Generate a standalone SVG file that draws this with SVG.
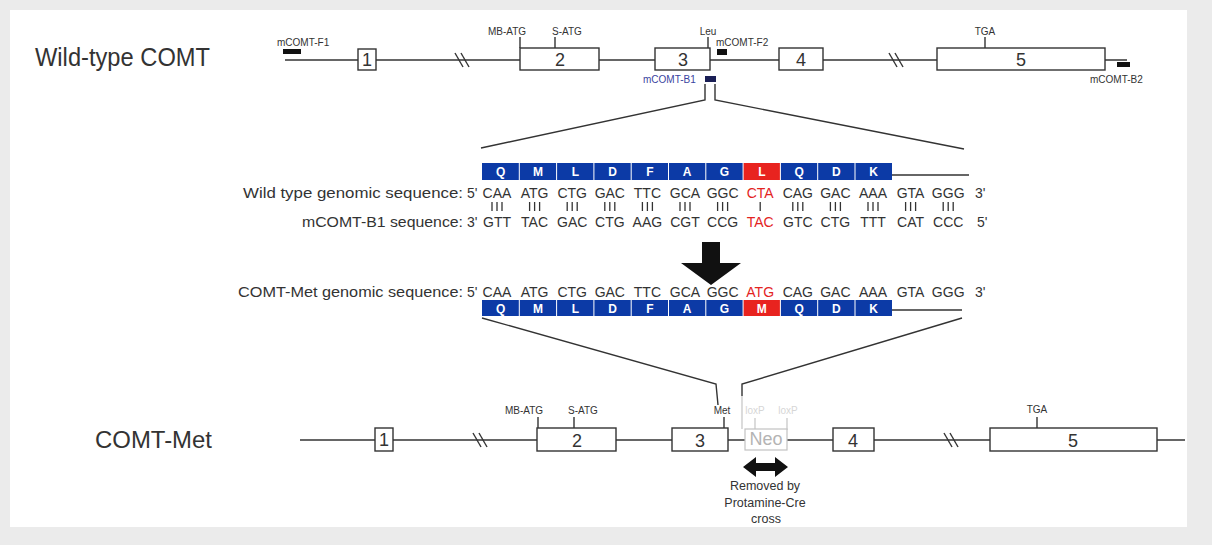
<svg xmlns="http://www.w3.org/2000/svg" width="1212" height="545" viewBox="0 0 1212 545">
<style>
.ln{stroke:#333;stroke-width:1.4;fill:none}
.ex{fill:#fff;stroke:#333;stroke-width:1.4}
.exn{font-family:"Liberation Sans",Arial,sans-serif;font-size:18px;text-anchor:middle;fill:#333}
.sm{font-family:"Liberation Sans",Arial,sans-serif;font-size:10px;fill:#333}
.smc{font-family:"Liberation Sans",Arial,sans-serif;font-size:10px;fill:#333;text-anchor:middle}
.seq{font-family:"Liberation Sans",Arial,sans-serif;font-size:14px;fill:#333}
.cod{font-family:"Liberation Sans",Arial,sans-serif;font-size:14px;fill:#333;text-anchor:middle}
.pr{stroke:#333;stroke-width:1.3}
.rd{fill:#e3241f}
.aa{font-family:"Liberation Sans",Arial,sans-serif;font-size:12px;font-weight:bold;fill:#fff;text-anchor:middle}
.cb{fill:#0c3aa6}
.cr{fill:#e8231f}
.sep{stroke:#fff;stroke-width:1}
.ttl{font-family:"Liberation Sans",Arial,sans-serif;fill:#333}
.note{font-family:"Liberation Sans",Arial,sans-serif;font-size:12.5px;fill:#333;text-anchor:middle}
.faint{stroke:#c4c4c4;stroke-width:1.2;fill:none}
</style>
<defs>
<g id="p3"><line class="pr" x1="-5" y1="202" x2="-5" y2="211"/><line class="pr" x1="0" y1="202" x2="0" y2="211"/><line class="pr" x1="5" y1="202" x2="5" y2="211"/></g>
</defs>
<rect x="0" y="0" width="1212" height="545" fill="#ebebeb"/>
<rect x="10" y="10" width="1177" height="517" fill="#fff"/>

<!-- Wild-type gene -->
<g id="wildtype-gene">
<text class="ttl" x="35" y="66" font-size="25" textLength="175" lengthAdjust="spacingAndGlyphs">Wild-type COMT</text>
<line class="ln" x1="285" y1="60" x2="1127" y2="60"/>
<line class="ln" x1="455" y1="53" x2="463" y2="67"/>
<line class="ln" x1="461" y1="53" x2="469" y2="67"/>
<line class="ln" x1="889" y1="53" x2="897" y2="67"/>
<line class="ln" x1="895" y1="53" x2="903" y2="67"/>
<line class="ln" x1="520" y1="37" x2="520" y2="48"/>
<line class="ln" x1="555" y1="37" x2="555" y2="48"/>
<line class="ln" x1="708" y1="37" x2="708" y2="48"/>
<line class="ln" x1="985" y1="37" x2="985" y2="48"/>
<text class="sm" x="488" y="35">MB-ATG</text>
<text class="sm" x="552" y="35">S-ATG</text>
<text class="smc" x="708" y="35">Leu</text>
<text class="smc" x="985" y="35">TGA</text>
<text class="sm" x="277" y="46">mCOMT-F1</text>
<rect x="283" y="49" width="18" height="5" fill="#111"/>
<text class="sm" x="716" y="46">mCOMT-F2</text>
<rect x="717" y="49" width="10" height="6" fill="#111"/>
<text class="sm" x="643" y="83" style="fill:#3a43a0">mCOMT-B1</text>
<rect x="705" y="76" width="11" height="6" fill="#1a1f55"/>
<rect x="1117" y="62" width="13" height="5" fill="#111"/>
<text class="sm" x="1090" y="83">mCOMT-B2</text>
</g>
<g id="wt-exon1"><rect class="ex" x="358" y="49" width="18" height="21"/><text class="exn" x="367" y="66" font-size="16">1</text></g>
<g id="wt-exon2"><rect class="ex" x="520" y="48" width="79" height="22"/><text class="exn" x="560" y="66">2</text></g>
<g id="wt-exon3"><rect class="ex" x="655" y="48" width="55" height="22"/><text class="exn" x="683" y="66">3</text></g>
<g id="wt-exon4"><rect class="ex" x="779" y="48" width="44" height="22"/><text class="exn" x="801" y="66">4</text></g>
<g id="wt-exon5"><rect class="ex" x="937" y="48" width="168" height="22"/><text class="exn" x="1021" y="66">5</text></g>

<!-- Sequences -->
<g id="wt-protein">
<rect class="cb" x="482" y="163" width="410" height="17"/>
<rect class="cr" x="743.1" y="163" width="37.3" height="17"/>
<g class="sep"><line x1="519.3" y1="163" x2="519.3" y2="180"/><line x1="556.6" y1="163" x2="556.6" y2="180"/><line x1="593.9" y1="163" x2="593.9" y2="180"/><line x1="631.2" y1="163" x2="631.2" y2="180"/><line x1="668.5" y1="163" x2="668.5" y2="180"/><line x1="705.8" y1="163" x2="705.8" y2="180"/><line x1="743.1" y1="163" x2="743.1" y2="180"/><line x1="780.4" y1="163" x2="780.4" y2="180"/><line x1="817.7" y1="163" x2="817.7" y2="180"/><line x1="855" y1="163" x2="855" y2="180"/></g>
<text class="aa" x="500.6" y="176">Q</text><text class="aa" x="538" y="176">M</text><text class="aa" x="575.3" y="176">L</text><text class="aa" x="612.6" y="176">D</text><text class="aa" x="649.9" y="176">F</text><text class="aa" x="687.2" y="176">A</text><text class="aa" x="724.5" y="176">G</text><text class="aa" x="761.8" y="176">L</text><text class="aa" x="799.1" y="176">Q</text><text class="aa" x="836.4" y="176">D</text><text class="aa" x="873.7" y="176">K</text>
<line class="ln" x1="892" y1="175" x2="969" y2="175"/>
</g>
<g id="wt-sequence">
<text class="seq" x="463" y="198" text-anchor="end" textLength="220" lengthAdjust="spacingAndGlyphs">Wild type genomic sequence:</text>
<text class="seq" x="467" y="198">5'</text>
<text class="cod" x="497" y="198">CAA</text><text class="cod" x="534.6" y="198">ATG</text><text class="cod" x="572.2" y="198">CTG</text><text class="cod" x="609.8" y="198">GAC</text><text class="cod" x="647.4" y="198">TTC</text><text class="cod" x="685" y="198">GCA</text><text class="cod" x="722.6" y="198">GGC</text><text class="cod rd" x="760.2" y="198">CTA</text><text class="cod" x="797.8" y="198">CAG</text><text class="cod" x="835.4" y="198">GAC</text><text class="cod" x="873" y="198">AAA</text><text class="cod" x="910.6" y="198">GTA</text><text class="cod" x="948.2" y="198">GGG</text>
<text class="seq" x="975" y="198">3'</text>
</g>
<g id="pairing">
<use href="#p3" x="497"/><use href="#p3" x="534.6"/><use href="#p3" x="572.2"/><use href="#p3" x="609.8"/><use href="#p3" x="647.4"/><use href="#p3" x="685"/><use href="#p3" x="722.6"/>
<line class="pr" x1="760.2" y1="202" x2="760.2" y2="211"/>
<use href="#p3" x="797.8"/><use href="#p3" x="835.4"/><use href="#p3" x="873"/><use href="#p3" x="910.6"/><use href="#p3" x="948.2"/>
</g>
<g id="b1-sequence">
<text class="seq" x="463" y="227" text-anchor="end" textLength="161" lengthAdjust="spacingAndGlyphs">mCOMT-B1 sequence:</text>
<text class="seq" x="467" y="227">3'</text>
<text class="cod" x="497" y="227">GTT</text><text class="cod" x="534.6" y="227">TAC</text><text class="cod" x="572.2" y="227">GAC</text><text class="cod" x="609.8" y="227">CTG</text><text class="cod" x="647.4" y="227">AAG</text><text class="cod" x="685" y="227">CGT</text><text class="cod" x="722.6" y="227">CCG</text><text class="cod rd" x="760.2" y="227">TAC</text><text class="cod" x="797.8" y="227">GTC</text><text class="cod" x="835.4" y="227">CTG</text><text class="cod" x="873" y="227">TTT</text><text class="cod" x="910.6" y="227">CAT</text><text class="cod" x="948.2" y="227">CCC</text>
<text class="seq" x="977" y="227">5'</text>
</g>
<g id="met-sequence">
<text class="seq" x="463" y="297" text-anchor="end" textLength="225" lengthAdjust="spacingAndGlyphs">COMT-Met genomic sequence:</text>
<text class="seq" x="467" y="297">5'</text>
<text class="cod" x="497" y="297">CAA</text><text class="cod" x="534.6" y="297">ATG</text><text class="cod" x="572.2" y="297">CTG</text><text class="cod" x="609.8" y="297">GAC</text><text class="cod" x="647.4" y="297">TTC</text><text class="cod" x="685" y="297">GCA</text><text class="cod" x="722.6" y="297">GGC</text><text class="cod rd" x="760.2" y="297">ATG</text><text class="cod" x="797.8" y="297">CAG</text><text class="cod" x="835.4" y="297">GAC</text><text class="cod" x="873" y="297">AAA</text><text class="cod" x="910.6" y="297">GTA</text><text class="cod" x="948.2" y="297">GGG</text>
<text class="seq" x="975" y="297">3'</text>
</g>
<g id="met-protein">
<rect class="cb" x="482" y="300" width="410" height="16"/>
<rect class="cr" x="743.1" y="300" width="37.3" height="16"/>
<g class="sep"><line x1="519.3" y1="300" x2="519.3" y2="316"/><line x1="556.6" y1="300" x2="556.6" y2="316"/><line x1="593.9" y1="300" x2="593.9" y2="316"/><line x1="631.2" y1="300" x2="631.2" y2="316"/><line x1="668.5" y1="300" x2="668.5" y2="316"/><line x1="705.8" y1="300" x2="705.8" y2="316"/><line x1="743.1" y1="300" x2="743.1" y2="316"/><line x1="780.4" y1="300" x2="780.4" y2="316"/><line x1="817.7" y1="300" x2="817.7" y2="316"/><line x1="855" y1="300" x2="855" y2="316"/></g>
<text class="aa" x="500.6" y="312.5">Q</text><text class="aa" x="538" y="312.5">M</text><text class="aa" x="575.3" y="312.5">L</text><text class="aa" x="612.6" y="312.5">D</text><text class="aa" x="649.9" y="312.5">F</text><text class="aa" x="687.2" y="312.5">A</text><text class="aa" x="724.5" y="312.5">G</text><text class="aa" x="761.8" y="312.5">M</text><text class="aa" x="799.1" y="312.5">Q</text><text class="aa" x="836.4" y="312.5">D</text><text class="aa" x="873.7" y="312.5">K</text>
<line class="ln" x1="892" y1="310" x2="962" y2="310"/>
</g>

<!-- COMT-Met gene -->
<g id="met-gene">
<text class="ttl" x="95" y="448" font-size="23" textLength="117" lengthAdjust="spacingAndGlyphs">COMT-Met</text>
<line class="ln" x1="300" y1="440" x2="745" y2="440"/>
<line class="ln" x1="787" y1="440" x2="1185" y2="440"/>
<line class="ln" x1="473" y1="433" x2="481" y2="447"/>
<line class="ln" x1="479" y1="433" x2="487" y2="447"/>
<line class="ln" x1="944" y1="433" x2="952" y2="447"/>
<line class="ln" x1="950" y1="433" x2="958" y2="447"/>
<line class="ln" x1="538" y1="417" x2="538" y2="428"/>
<line class="ln" x1="574" y1="417" x2="574" y2="428"/>
<line class="ln" x1="724" y1="417" x2="724" y2="428"/>
<line class="ln" x1="1037" y1="417" x2="1037" y2="428"/>
<text class="sm" x="505" y="414">MB-ATG</text>
<text class="sm" x="568" y="414">S-ATG</text>
<text class="smc" x="722" y="414">Met</text>
<text class="smc" x="1037" y="413">TGA</text>
</g>
<g id="met-exon1"><rect class="ex" x="375" y="428" width="18" height="23"/><text class="exn" x="384" y="446" font-size="16">1</text></g>
<g id="met-exon2"><rect class="ex" x="537" y="428" width="79" height="23"/><text class="exn" x="577" y="447">2</text></g>
<g id="met-exon3"><rect class="ex" x="672" y="428" width="56" height="23"/><text class="exn" x="700" y="447">3</text></g>
<g id="neo">
<line class="faint" x1="755" y1="418" x2="755" y2="430"/>
<line class="faint" x1="787" y1="418" x2="787" y2="430"/>
<text class="smc" x="755" y="414" style="fill:#d6d6d6">loxP</text>
<text class="smc" x="788" y="414" style="fill:#d6d6d6">loxP</text>
<rect x="745" y="429" width="42" height="21" fill="#fff" stroke="#c2c2c2" stroke-width="1.2"/>
<text class="exn" x="766" y="445" font-size="13" style="fill:#b4b4b4">Neo</text>
</g>
<g id="met-exon4"><rect class="ex" x="833" y="428" width="41" height="23"/><text class="exn" x="853" y="447">4</text></g>
<g id="met-exon5"><rect class="ex" x="990" y="428" width="167" height="23"/><text class="exn" x="1073" y="447">5</text></g>
<g id="cre-note">
<text class="note" x="765" y="490">Removed by</text>
<text class="note" x="765" y="507">Protamine-Cre</text>
<text class="note" x="766" y="523" font-size="10">cross</text>
</g>

<!-- connectors -->
<g id="connectors">
<polyline class="ln" points="705,84 705,100 481,148"/>
<polyline class="ln" points="715,84 715,100 964,149"/>
<polygon points="702,242 720,242 720,263 741,263 711,285 681,263 702,263" fill="#111"/>
<polyline class="ln" points="482,318 716,384 718,405"/>
<polyline class="ln" points="962,318 742,384 742,396"/>
<line class="faint" x1="742" y1="396" x2="742" y2="429"/>
<polygon points="743,467 756,457 756,463 775,463 775,457 788,467 775,477 775,471 756,471 756,477" fill="#111"/>
</g>
</svg>
